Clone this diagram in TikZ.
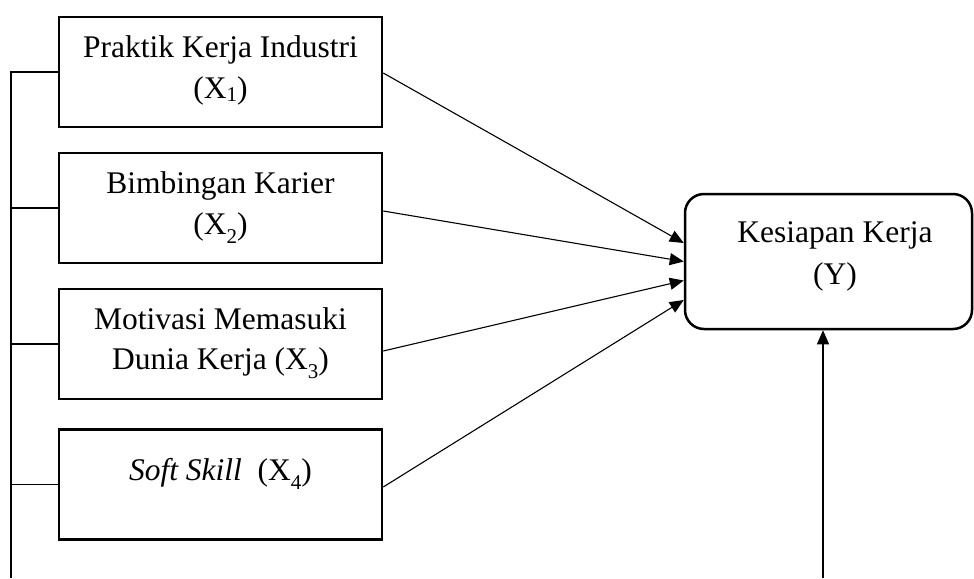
\documentclass[tikz,border=0pt]{standalone}
\usepackage{fontspec}
\setmainfont{Liberation Serif}
\usetikzlibrary{arrows.meta,calc}
\newcommand{\sbA}[1]{\raisebox{-0.12em}{\fontsize{21}{21}\selectfont #1}}
\newcommand{\sbB}[1]{\raisebox{-0.3em}{\fontsize{21}{21}\selectfont #1}}
\begin{document}
\begin{tikzpicture}[x=1pt,y=-1pt,
  varbox/.style={draw,line width=2.5pt,minimum width=323pt,minimum height=110pt,inner sep=0pt},
  ybox/.style={draw,line width=2.5pt,rounded corners=19pt,minimum width=287pt,minimum height=135pt,inner sep=0pt},
  txt/.style={anchor=base,inner sep=0pt,font=\fontsize{31.5}{41}\selectfont},
  thin/.style={line width=1.1pt},
  arr/.style={line width=1.1pt,-{Triangle[length=14pt,width=12pt]}}]
\useasboundingbox (0,0) rectangle (974,578);
% boxes
\node[varbox] (b1) at (220.5,72) {};
\node[varbox] (b2) at (220.5,208) {};
\node[varbox] (b3) at (220.5,344) {};
\node[varbox] (b4) at (220.5,484.5) {};
\node[ybox] (yk) at (828.5,261.5) {};
% texts
\node[txt] (t1a) at (220.5,57) {Praktik Kerja Industri};
\node[txt] (t1b) at (220.5,98) {(X\sbA{1})};
\node[txt] (t2a) at (220.5,193) {Bimbingan Karier};
\node[txt] (t2b) at (220.5,234) {(X\sbB{2})};
\node[txt] (t3a) at (220.5,329) {Motivasi Memasuki};
\node[txt] (t3b) at (220.5,369) {Dunia Kerja (X\sbB{3})};
\node[txt] (t4a) at (220.5,480) {\textit{Soft Skill}\ \ (X\sbB{4})};
\node[txt] (tya) at (835,242) {Kesiapan Kerja};
\node[txt] (tyb) at (835,284) {(Y)};
% left bracket line
\coordinate (ltop) at (11,72);
\coordinate (lbot) at (11,578);
\draw[thin] (lbot) -- (ltop) -- (b1.west);
\draw[thin] (b2.west) -- (b2.west -| ltop);
\draw[thin] (b3.west) -- (b3.west -| ltop);
\draw[thin] (b4.west) -- (b4.west -| ltop);
% arrows to Y
\draw[arr] ([yshift=-1pt]b1.east) -- ([yshift=18.5pt]yk.west);
\draw[arr] ([yshift=-3pt]b2.east) -- ([yshift=0pt]yk.west);
\draw[arr] ([yshift=-7pt]b3.east) -- ([yshift=-19pt]yk.west);
\draw[arr] ([yshift=-2.5pt]b4.east) -- ([yshift=-38.5pt]yk.west);
% bottom arrow
\coordinate (ybot) at (823,578);
\draw[arr] (ybot) -- (ybot |- yk.south);
\end{tikzpicture}
\end{document}
